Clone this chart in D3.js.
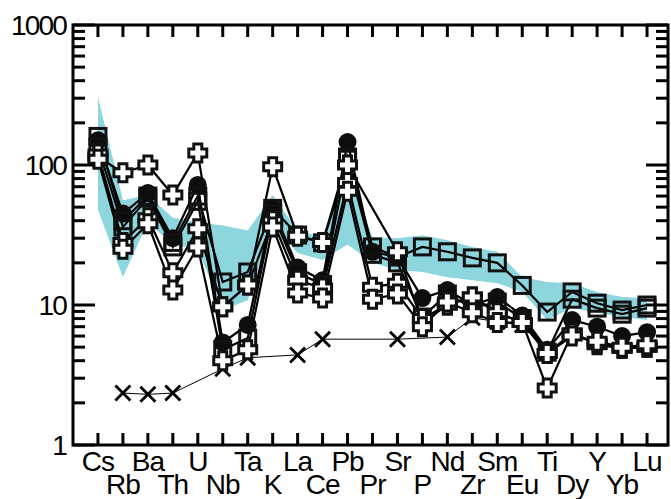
<!DOCTYPE html>
<html>
<head>
<meta charset="utf-8">
<script src="https://cdn.jsdelivr.net/npm/d3@7"></script>
<style>
body { margin: 0; background: #fff; }
text { font-family: "Liberation Sans", Arial, sans-serif; fill: #000; }
</style>
</head>
<body>
<div id="chart"></div>
<script>
// Elements, in diagram order
var elements = ["Cs","Rb","Ba","Th","U","Nb","Ta","K","La","Ce","Pb","Pr","Sr","P","Nd","Zr","Sm","Eu","Ti","Dy","Y","Yb","Lu"];

// Cyan reference field (low / high edge)
var bandLow  = [48, 15.8, 39, 27, 25, 9.2, 10.8, 38, 23.5, 21, 27, 20, 17.8, 17.2, 15.8, 15, 14.3, 12.4, 7.8, 9.5, 8.8, 8.2, 7.8];
var bandHigh = [306, 56, 61, 42, 39, 37, 34, 61, 34, 30.6, 95, 30.5, 30, 31.5, 29, 26, 24, 15.8, 14.6, 14.3, 12.4, 11.4, 11.2];

// Samples
var circleVals  = [150, 45, 63, 30, 72, 5.4, 7.2, 49, 18.5, 15, 146, 24, 22, 11.2, 12.8, 10, 11.4, 8.4, 4.8, 7.8, 7, 6, 6.4];
var squareA     = [160, 40, 60, 28, 60, 14.6, 17.2, 49, 31.6, 27.8, 114, 26, 22, 26, 24, 21.7, 20, 13.8, 8.9, 12.4, 10.3, 9.2, 10];
var squareB     = [135, 36, 58, 26, 55, 4.8, 5.8, 45, 17, 14, 110, 23, 20, 8.2, 12, 9.5, 10.5, 8, 4.6, 11, 9.5, 8.6, 9.5];
var crossHigh   = [114, 88, 100, 61, 122, 9.7, 13.9, 97, 31, 28, 100, null, 24, 7.5, 10, 11.4, 8.8, 7.5, 2.55, 6.3, 5.2, 4.9, 5];
var crossMid    = [120, 28, 42, 17, 35, 9.7, 13.9, 40, 15, 13.2, 75, 13.4, 14.3, 8, 10, 11.4, 8.8, 7.5, 4.5, 6.3, 5.3, 4.9, 5];
var crossLow    = [110, 25, 38, 12.8, 26, 4.0, 4.8, 36, 12.2, 11.2, 65, 11, 12, 7, 10.5, 8.8, 7.5, 7.5, 4.5, 6, 5.5, 5, 5.2];
var xVals       = [null, 2.35, 2.3, 2.35, null, 3.5, 4.2, null, 4.4, 5.7, null, null, 5.7, null, 5.9, 8.1, 7.6, 7.2, null, null, null, null, null];

var yTicks = [1, 10, 100, 1000];

var svgWidth = 671, svgHeight = 499;
var plotLeft = 73, plotRight = 668, plotTop = 25, plotBottom = 445;

var svg = d3.select('#chart').append('svg')
    .attr('width', svgWidth)
    .attr('height', svgHeight);

var xScale = d3.scaleLinear().domain([-1, 22.84]).range([plotLeft, plotRight]);
var yScale = d3.scaleLog().domain([1, 1000]).range([plotBottom, plotTop]);

// Cyan field
var idx = d3.range(elements.length);
var area = d3.area()
    .x(i => xScale(i))
    .y0(i => yScale(bandLow[i]))
    .y1(i => yScale(bandHigh[i]));
svg.append('path')
    .datum(idx)
    .attr('d', area)
    .attr('fill', '#8dd6de');

function pts(vals) {
    return vals.map((v, i) => ({i: i, v: v})).filter(d => d.v != null);
}
var line = d3.line().x(d => xScale(d.i)).y(d => yScale(d.v));

function drawLine(vals, w) {
    svg.append('path')
        .datum(pts(vals))
        .attr('d', line)
        .attr('fill', 'none')
        .attr('stroke', '#000')
        .attr('stroke-width', w);
}

// X series (thin line)
drawLine(xVals, 1);
svg.append('g').selectAll('path')
    .data(pts(xVals))
    .enter().append('path')
    .attr('transform', d => `translate(${xScale(d.i)},${yScale(d.v)})`)
    .attr('d', 'M-7.5,-7.5L7.5,7.5M-7.5,7.5L7.5,-7.5')
    .attr('stroke', '#000')
    .attr('stroke-width', 2.8)
    .attr('fill', 'none');

// main series lines
[circleVals, squareA, squareB, crossHigh, crossMid, crossLow].forEach(function(s) {
    drawLine(s, 2.2);
});

// circles
svg.append('g').selectAll('circle')
    .data(pts(circleVals))
    .enter().append('circle')
    .attr('cx', d => xScale(d.i))
    .attr('cy', d => yScale(d.v))
    .attr('r', 9)
    .attr('fill', '#0d0d0d');

// squares (open)
[squareA, squareB].forEach(function(s) {
    svg.append('g').selectAll('rect')
        .data(pts(s))
        .enter().append('rect')
        .attr('x', d => xScale(d.i) - 8)
        .attr('y', d => yScale(d.v) - 8)
        .attr('width', 16)
        .attr('height', 16)
        .attr('fill', 'none')
        .attr('stroke', '#111')
        .attr('stroke-width', 3);
});

// open crosses
var plus = 'M-4,-9H4V-4H9V4H4V9H-4V4H-9V-4H-4Z';
[crossHigh, crossMid, crossLow].forEach(function(s) {
    svg.append('g').selectAll('path')
        .data(pts(s))
        .enter().append('path')
        .attr('transform', d => `translate(${xScale(d.i)},${yScale(d.v)})`)
        .attr('d', plus)
        .attr('fill', '#fff')
        .attr('stroke', '#111')
        .attr('stroke-width', 3);
});

// frame
svg.append('rect')
    .attr('x', plotLeft).attr('y', plotTop)
    .attr('width', plotRight - plotLeft).attr('height', plotBottom - plotTop)
    .attr('fill', 'none')
    .attr('stroke', '#000')
    .attr('stroke-width', 3);

// y ticks, both sides, pointing inward
var minor = [];
[1, 10, 100].forEach(function(dec) {
    for (var k = 2; k <= 9; k++) minor.push(dec * k);
});
var tickG = svg.append('g').attr('stroke', '#000').attr('stroke-width', 3);
minor.forEach(function(v) {
    tickG.append('line').attr('x1', plotLeft).attr('x2', plotLeft + 12).attr('y1', yScale(v)).attr('y2', yScale(v));
    tickG.append('line').attr('x1', plotRight).attr('x2', plotRight - 12).attr('y1', yScale(v)).attr('y2', yScale(v));
});
yTicks.forEach(function(v) {
    tickG.append('line').attr('x1', plotLeft).attr('x2', plotLeft + 22).attr('y1', yScale(v)).attr('y2', yScale(v));
    tickG.append('line').attr('x1', plotRight).attr('x2', plotRight - 22).attr('y1', yScale(v)).attr('y2', yScale(v));
});
// x ticks top and bottom
idx.forEach(function(i) {
    tickG.append('line').attr('x1', xScale(i)).attr('x2', xScale(i)).attr('y1', plotTop).attr('y2', plotTop + 12);
    tickG.append('line').attr('x1', xScale(i)).attr('x2', xScale(i)).attr('y1', plotBottom).attr('y2', plotBottom - 12);
});

// y labels
svg.append('g').selectAll('text')
    .data(yTicks)
    .enter().append('text')
    .attr('x', 66)
    .attr('y', d => yScale(d) + 10)
    .attr('text-anchor', 'end')
    .attr('font-size', 28)
    .attr('letter-spacing', -1.8)
    .text(d => d);

// x labels, two staggered rows
svg.append('g').selectAll('text')
    .data(idx)
    .enter().append('text')
    .attr('x', i => xScale(i))
    .attr('y', i => i % 2 === 0 ? 471 : 494)
    .attr('text-anchor', 'middle')
    .attr('font-size', 28)
    .attr('letter-spacing', -1)
    .text(i => elements[i]);
</script>
</body>
</html>
